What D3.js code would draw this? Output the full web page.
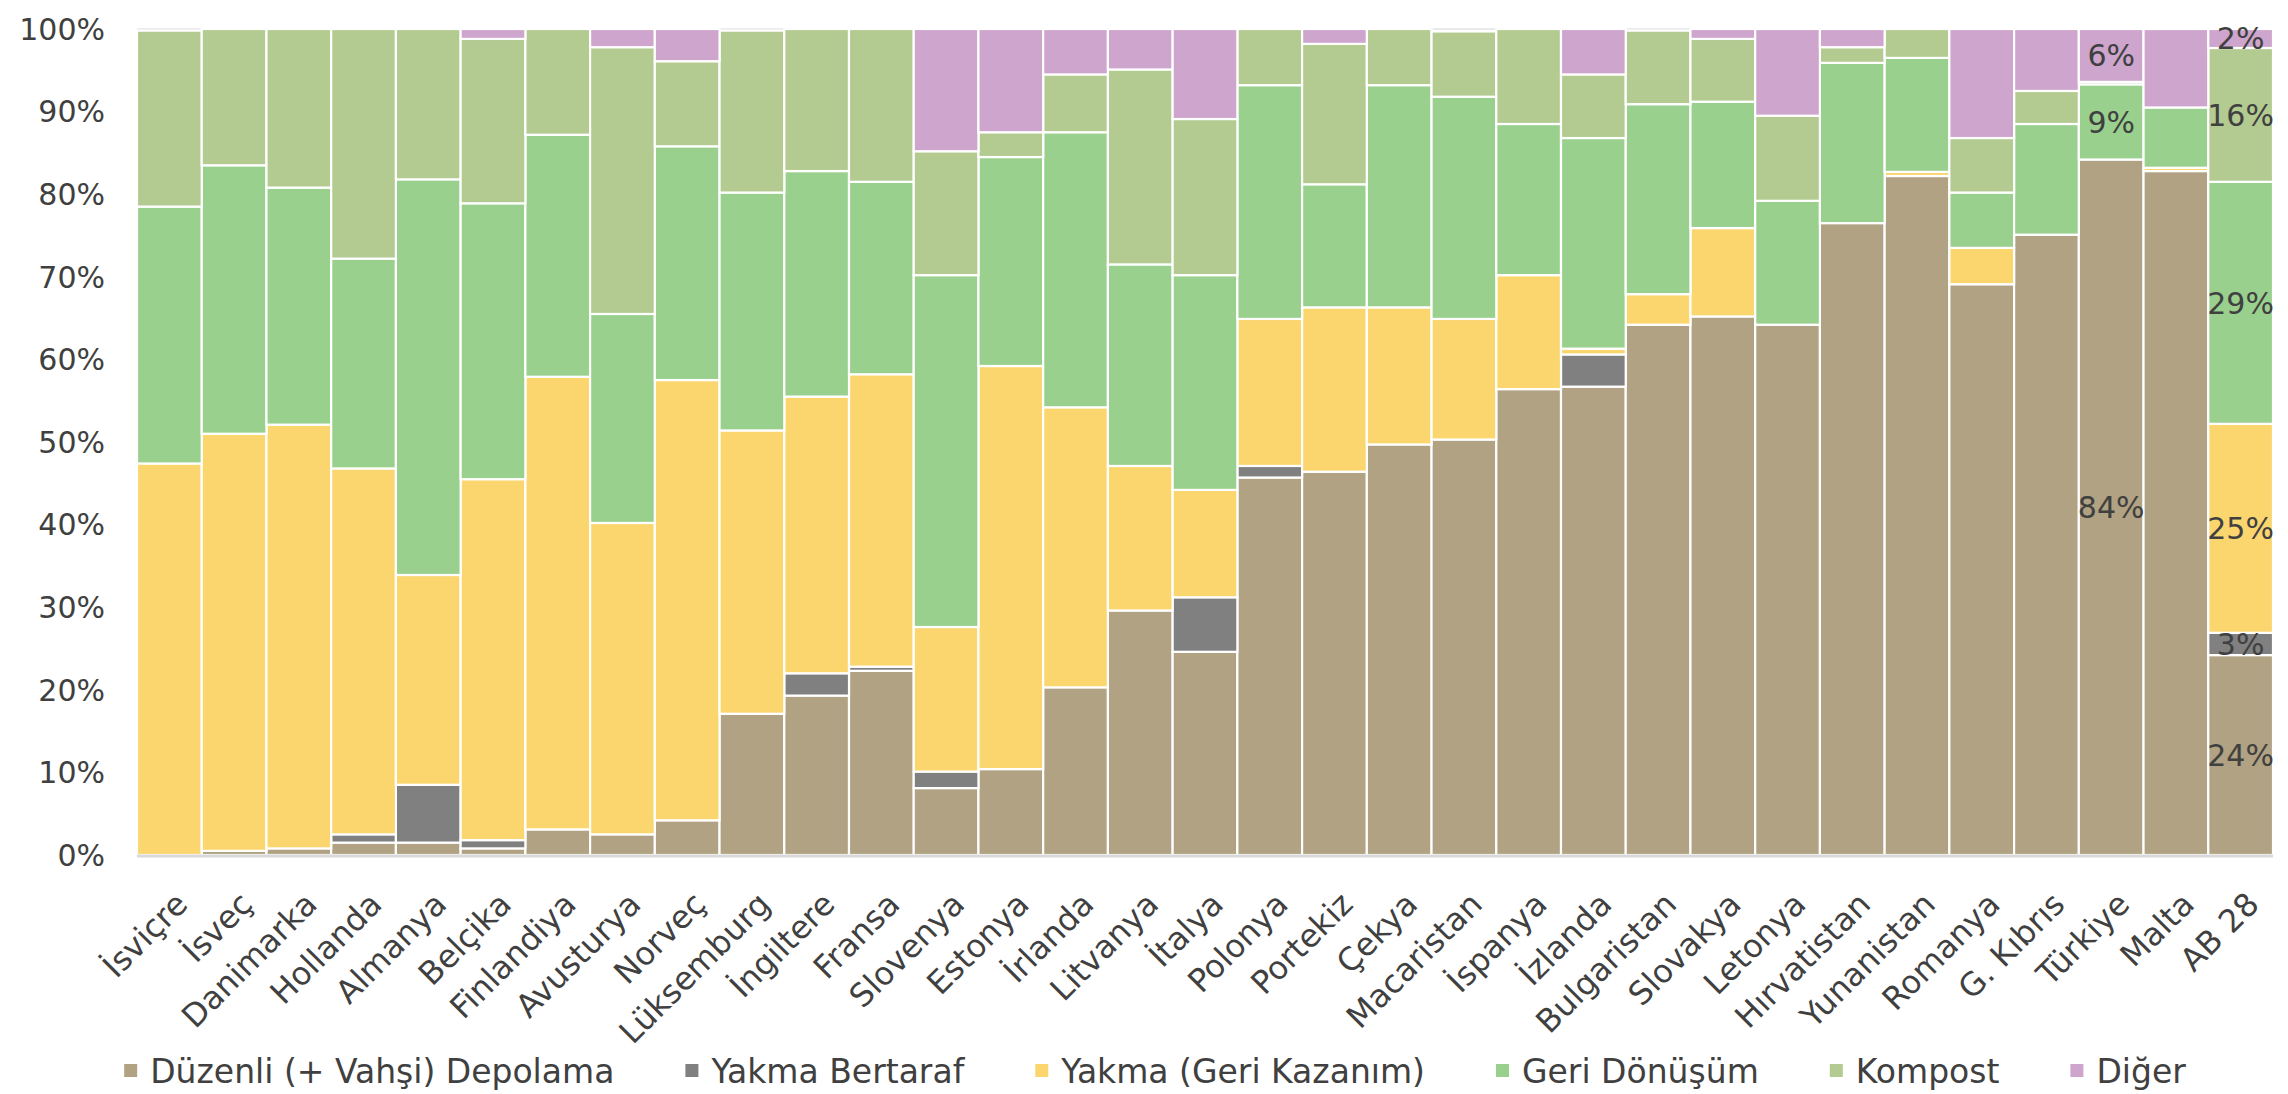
<!DOCTYPE html>
<html>
<head>
<meta charset="utf-8">
<script src="https://cdn.jsdelivr.net/npm/d3@7"></script>
<style>
  body { margin: 0; background: #fff; }
  text { font-family: "DejaVu Sans", sans-serif; fill: #404040; }
</style>
</head>
<body>
<div id="chart"></div>
<script>
// categories and series (% of municipal waste)
var categories = ["İsviçre","İsveç","Danimarka","Hollanda","Almanya","Belçika","Finlandiya","Avusturya","Norveç","Lüksemburg","İngiltere","Fransa","Slovenya","Estonya","İrlanda","Litvanya","İtalya","Polonya","Portekiz","Çekya","Macaristan","İspanya","İzlanda","Bulgaristan","Slovakya","Letonya","Hırvatistan","Yunanistan","Romanya","G. Kıbrıs","Türkiye","Malta","AB 28"]

var duzenli    = [0, 0.5, 0.8, 1.5, 1.5, 0.8, 3.1, 2.5, 4.2, 17.1, 19.3, 22.3, 8.1, 10.4, 20.3, 29.6, 24.6, 45.7, 46.4, 49.7, 50.3, 56.4, 56.7, 64.2, 65.2, 64.2, 76.5, 82.2, 69.1, 75.1, 84.2, 82.8, 24.2]
var yakmaBert  = [0, 0, 0, 1.0, 7.0, 1.0, 0, 0, 0, 0, 2.7, 0.5, 2.0, 0, 0, 0, 6.6, 1.4, 0, 0, 0, 0, 3.9, 0, 0, 0, 0, 0, 0, 0, 0, 0, 2.7]
var yakmaGeri  = [47.4, 50.5, 51.3, 44.3, 25.4, 43.7, 54.8, 37.7, 53.3, 34.3, 33.5, 35.4, 17.5, 48.8, 33.9, 17.5, 13.0, 17.8, 19.9, 16.6, 14.6, 13.8, 0.7, 3.7, 10.7, 0, 0, 0.5, 4.4, 0, 0, 0.4, 25.3]
var geriDonusum = [31.1, 32.5, 28.7, 25.4, 47.9, 33.4, 29.3, 25.3, 28.3, 28.8, 27.3, 23.3, 42.6, 25.3, 33.3, 24.4, 26.0, 28.3, 14.9, 26.9, 26.9, 18.3, 25.5, 23.0, 15.3, 15.0, 19.4, 13.8, 6.7, 13.4, 9.1, 7.3, 29.3]
var kompost    = [21.3, 16.5, 19.2, 27.8, 18.2, 19.9, 12.8, 32.3, 10.3, 19.6, 17.2, 18.5, 15.0, 3.0, 7.0, 23.6, 18.9, 6.8, 17.0, 6.8, 7.9, 11.5, 7.7, 8.9, 7.6, 10.3, 1.9, 3.5, 6.6, 4.0, 0.3, 0, 16.2]
var diger      = [0, 0, 0, 0, 0, 1.2, 0, 2.2, 3.9, 0, 0, 0, 14.8, 12.5, 5.5, 4.9, 10.9, 0, 1.8, 0, 0, 0, 5.5, 0, 1.2, 10.5, 2.2, 0, 13.2, 7.5, 6.4, 9.5, 2.3]

var seriesNames = ["Düzenli (+ Vahşi) Depolama", "Yakma Bertaraf", "Yakma (Geri Kazanım)", "Geri Dönüşüm", "Kompost", "Diğer"]
var seriesValues = [duzenli, yakmaBert, yakmaGeri, geriDonusum, kompost, diger]
var colors = ["#b0a282", "#808080", "#fbd66f", "#9ad08e", "#b3cb90", "#cea5cd"]
var yTicks = [0, 10, 20, 30, 40, 50, 60, 70, 80, 90, 100]
var labelled = ["Türkiye", "AB 28"]

var width = 2288,
    height = 1094

var svg = d3.select("#chart")
  .append("svg")
    .attr("width", width)
    .attr("height", height)

var x = d3.scaleBand()
  .domain(categories)
  .range([137, 2273])
  .padding(0)

var y = d3.scaleLinear()
  .domain([0, 100])
  .range([855, 29])

// build table for the stack
var table = categories.map(function(c, i) {
  var row = { cat: c }
  seriesNames.forEach(function(s, j) { row[s] = seriesValues[j][i] })
  return row
})

var stacked = d3.stack().keys(seriesNames)(table)

// gridlines
svg.append("g")
  .selectAll("line")
  .data(yTicks)
  .enter()
  .append("line")
    .attr("x1", x.range()[0])
    .attr("x2", x.range()[1])
    .attr("y1", d => y(d))
    .attr("y2", d => y(d))
    .attr("stroke", "#e3e3e3")
    .attr("stroke-width", 1.5)

// y tick labels
svg.append("g")
  .selectAll("text")
  .data(yTicks)
  .enter()
  .append("text")
    .attr("x", 105)
    .attr("y", d => y(d))
    .attr("dy", "0.36em")
    .attr("text-anchor", "end")
    .style("font-size", "30px")
    .text(d => d + "%")

// bars
var layers = svg.append("g")
  .selectAll("g")
  .data(stacked)
  .enter()
  .append("g")
    .attr("fill", (d, i) => colors[i])

layers.selectAll("rect")
  .data(d => d.filter(p => p[1] - p[0] > 0))
  .enter()
  .append("rect")
    .attr("x", d => x(d.data.cat))
    .attr("width", x.bandwidth())
    .attr("y", d => y(d[1]))
    .attr("height", d => y(d[0]) - y(d[1]))
    .attr("stroke", "#fff")
    .attr("stroke-width", 2.2)

// x axis line
svg.append("line")
  .attr("x1", x.range()[0])
  .attr("x2", x.range()[1])
  .attr("y1", 856)
  .attr("y2", 856)
  .attr("stroke", "#d9d9d9")
  .attr("stroke-width", 3)

// data labels on Türkiye and AB 28
var labelData = []
stacked.forEach(function(layer) {
  layer.forEach(function(p) {
    var v = p[1] - p[0]
    if (labelled.indexOf(p.data.cat) >= 0 && v >= 1) labelData.push({ cat: p.data.cat, mid: (p[0] + p[1]) / 2, v: v })
  })
})

svg.append("g")
  .selectAll("text")
  .data(labelData)
  .enter()
  .append("text")
    .attr("x", d => x(d.cat) + x.bandwidth() / 2)
    .attr("y", d => y(d.mid))
    .attr("dy", "0.36em")
    .attr("text-anchor", "middle")
    .style("font-size", "30px")
    .text(d => Math.round(d.v) + "%")

// category labels, rotated
svg.append("g")
  .selectAll("text")
  .data(categories)
  .enter()
  .append("text")
    .attr("transform", d => "translate(" + (x(d) + x.bandwidth() / 2 + 12) + ",898) rotate(-45)")
    .attr("dy", "0.36em")
    .attr("text-anchor", "end")
    .style("font-size", "32px")
    .text(d => d)

// legend
var legend = svg.append("g")
var lx = 0
seriesNames.forEach(function(s, i) {
  var g = legend.append("g").attr("transform", "translate(" + lx + ",0)")
  g.append("rect")
    .attr("x", 0)
    .attr("y", -7)
    .attr("width", 13)
    .attr("height", 13)
    .attr("fill", colors[i])
  var t = g.append("text")
    .attr("x", 26)
    .attr("y", 0)
    .attr("dy", "0.36em")
    .style("font-size", "33px")
    .text(s)
  lx += 26 + t.node().getComputedTextLength() + 71
})
lx -= 71
legend.attr("transform", "translate(" + (1155 - lx / 2) + ",1071)")
</script>
</body>
</html>
